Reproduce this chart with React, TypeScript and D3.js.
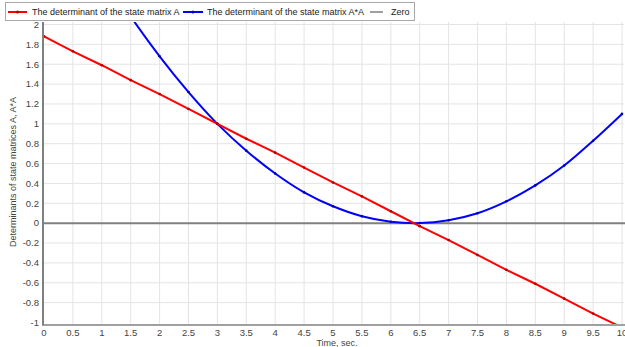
import React, { useEffect, useRef } from "react";
import * as d3 from "d3";

// time samples (sec.)
const times = [0, 0.5, 1, 1.5, 2, 2.5, 3, 3.5, 4, 4.5, 5, 5.5, 6, 6.5, 7, 7.5, 8, 8.5, 9, 9.5, 10];
// det(A)
const detA = [1.88, 1.73, 1.59, 1.44, 1.3, 1.15, 1.0, 0.85, 0.71, 0.56, 0.41, 0.27, 0.12, -0.03, -0.17, -0.32, -0.47, -0.61, -0.76, -0.91, -1.05];
// det(A*A)
const detAA = [3.53, 3.0, 2.52, 2.08, 1.68, 1.32, 1.0, 0.73, 0.5, 0.31, 0.17, 0.07, 0.015, 0.001, 0.03, 0.1, 0.22, 0.38, 0.58, 0.83, 1.1];
const zeroLine = [0, 0];

const xTicks = [0, 0.5, 1, 1.5, 2, 2.5, 3, 3.5, 4, 4.5, 5, 5.5, 6, 6.5, 7, 7.5, 8, 8.5, 9, 9.5, 10];
const yTicks = [-1, -0.8, -0.6, -0.4, -0.2, 0, 0.2, 0.4, 0.6, 0.8, 1, 1.2, 1.4, 1.6, 1.8, 2];

const legendLabels = [
  "The determinant of the state matrix A",
  "The determinant of the state matrix A*A",
  "Zero",
];

export default function App() {
  const ref = useRef<SVGSVGElement | null>(null);

  useEffect(() => {
    const svg = d3.select(ref.current);
    svg.selectAll("*").remove();

    const font = "'Liberation Sans', Arial, sans-serif";
    const left = 44, right = 622, top = 22, bottom = 324;

    const x = d3.scaleLinear().domain([0, 10]).range([left, right]);
    const y = d3.scaleLinear().domain([-1, 2]).range([322.5, 24.5]);

    // grid
    const grid = svg.append("g");
    grid.selectAll("line.vx")
      .data(xTicks.slice(1))
      .enter().append("line")
      .attr("x1", (d) => x(d)).attr("x2", (d) => x(d))
      .attr("y1", top).attr("y2", bottom)
      .attr("stroke", "#e4e4e4").attr("stroke-width", 1);
    grid.selectAll("line.hy")
      .data(yTicks.filter((d) => d !== -1))
      .enter().append("line")
      .attr("x1", left).attr("x2", right + 2)
      .attr("y1", (d) => y(d)).attr("y2", (d) => y(d))
      .attr("stroke", "#e4e4e4").attr("stroke-width", 1);

    // clip
    svg.append("clipPath").attr("id", "plotclip")
      .append("rect")
      .attr("x", left).attr("y", top)
      .attr("width", right - left + 3).attr("height", bottom - top);

    const plot = svg.append("g").attr("clip-path", "url(#plotclip)");

    // zero line
    plot.append("line")
      .attr("x1", x(0)).attr("x2", x(10) + 3)
      .attr("y1", y(zeroLine[0])).attr("y2", y(zeroLine[1]))
      .attr("stroke", "#808080").attr("stroke-width", 2);

    const pts = (vals: number[]) => times.map((t, i) => [t, vals[i]] as [number, number]);

    const blueLine = d3.line<[number, number]>()
      .x((d) => x(d[0])).y((d) => y(d[1]))
      .curve(d3.curveCatmullRom.alpha(0.5));
    plot.append("path")
      .datum(pts(detAA))
      .attr("d", blueLine)
      .attr("fill", "none").attr("stroke", "#0000ff").attr("stroke-width", 2);
    plot.selectAll("circle.b")
      .data(pts(detAA))
      .enter().append("circle")
      .attr("cx", (d) => x(d[0])).attr("cy", (d) => y(d[1]))
      .attr("r", 1.3).attr("fill", "#0000a8");

    const redLine = d3.line<[number, number]>()
      .x((d) => x(d[0])).y((d) => y(d[1]));
    plot.append("path")
      .datum(pts(detA))
      .attr("d", redLine)
      .attr("fill", "none").attr("stroke", "#ff0000").attr("stroke-width", 2);
    plot.selectAll("circle.r")
      .data(pts(detA))
      .enter().append("circle")
      .attr("cx", (d) => x(d[0])).attr("cy", (d) => y(d[1]))
      .attr("r", 1.3).attr("fill", "#b00000");

    // axes lines
    svg.append("line")
      .attr("x1", left - 1).attr("x2", left - 1)
      .attr("y1", top).attr("y2", bottom + 1)
      .attr("stroke", "#808080").attr("stroke-width", 2);
    svg.append("line")
      .attr("x1", left - 2).attr("x2", right + 3)
      .attr("y1", bottom + 1).attr("y2", bottom + 1)
      .attr("stroke", "#808080").attr("stroke-width", 1.5);

    // tick labels
    svg.append("g").selectAll("text")
      .data(yTicks)
      .enter().append("text")
      .attr("x", left - 5).attr("y", (d) => y(d))
      .attr("dy", "0.35em")
      .attr("text-anchor", "end")
      .style("font-family", font).style("font-size", "9.5px").style("fill", "#444")
      .text((d) => String(d));
    svg.append("g").selectAll("text")
      .data(xTicks)
      .enter().append("text")
      .attr("x", (d) => x(d)).attr("y", bottom + 12)
      .attr("text-anchor", "middle")
      .style("font-family", font).style("font-size", "9.5px").style("fill", "#444")
      .text((d) => String(d));

    // axis titles
    svg.append("text")
      .attr("x", (left + right) / 2 + 4).attr("y", 346)
      .attr("text-anchor", "middle")
      .style("font-family", font).style("font-size", "9px").style("fill", "#444")
      .text("Time, sec.");
    svg.append("text")
      .attr("transform", "rotate(-90)")
      .attr("x", -172).attr("y", 16)
      .attr("text-anchor", "middle")
      .style("font-family", font).style("font-size", "9px").style("fill", "#444")
      .text("Determinants of state matrices A, A*A");

    // legend
    const lg = svg.append("g");
    lg.append("rect")
      .attr("x", 5.5).attr("y", 2.5).attr("width", 409).attr("height", 18)
      .attr("fill", "#fff").attr("stroke", "#a8a8a8");
    const items = [
      { x0: 8, x1: 27, tx: 32, color: "#ff0000", dot: "#b00000", w: 2 },
      { x0: 183, x1: 203, tx: 207, color: "#0000ff", dot: "#0000a8", w: 2 },
      { x0: 370, x1: 383, tx: 391, color: "#808080", dot: "", w: 1.5 },
    ];
    items.forEach((it, i) => {
      lg.append("line")
        .attr("x1", it.x0).attr("x2", it.x1).attr("y1", 12).attr("y2", 12)
        .attr("stroke", it.color).attr("stroke-width", it.w);
      if (it.dot) {
        lg.append("circle")
          .attr("cx", (it.x0 + it.x1) / 2).attr("cy", 12).attr("r", 1.5)
          .attr("fill", it.dot);
      }
      lg.append("text")
        .attr("x", it.tx).attr("y", 12).attr("dy", "0.35em")
        .style("font-family", font).style("font-size", "9px").style("fill", "#222")
        .text(legendLabels[i]);
    });
  }, []);

  return (
    <svg ref={ref} width={625} height={347}
      style={{ position: "absolute", left: 0, top: 0, background: "#fff" }} />
  );
}
